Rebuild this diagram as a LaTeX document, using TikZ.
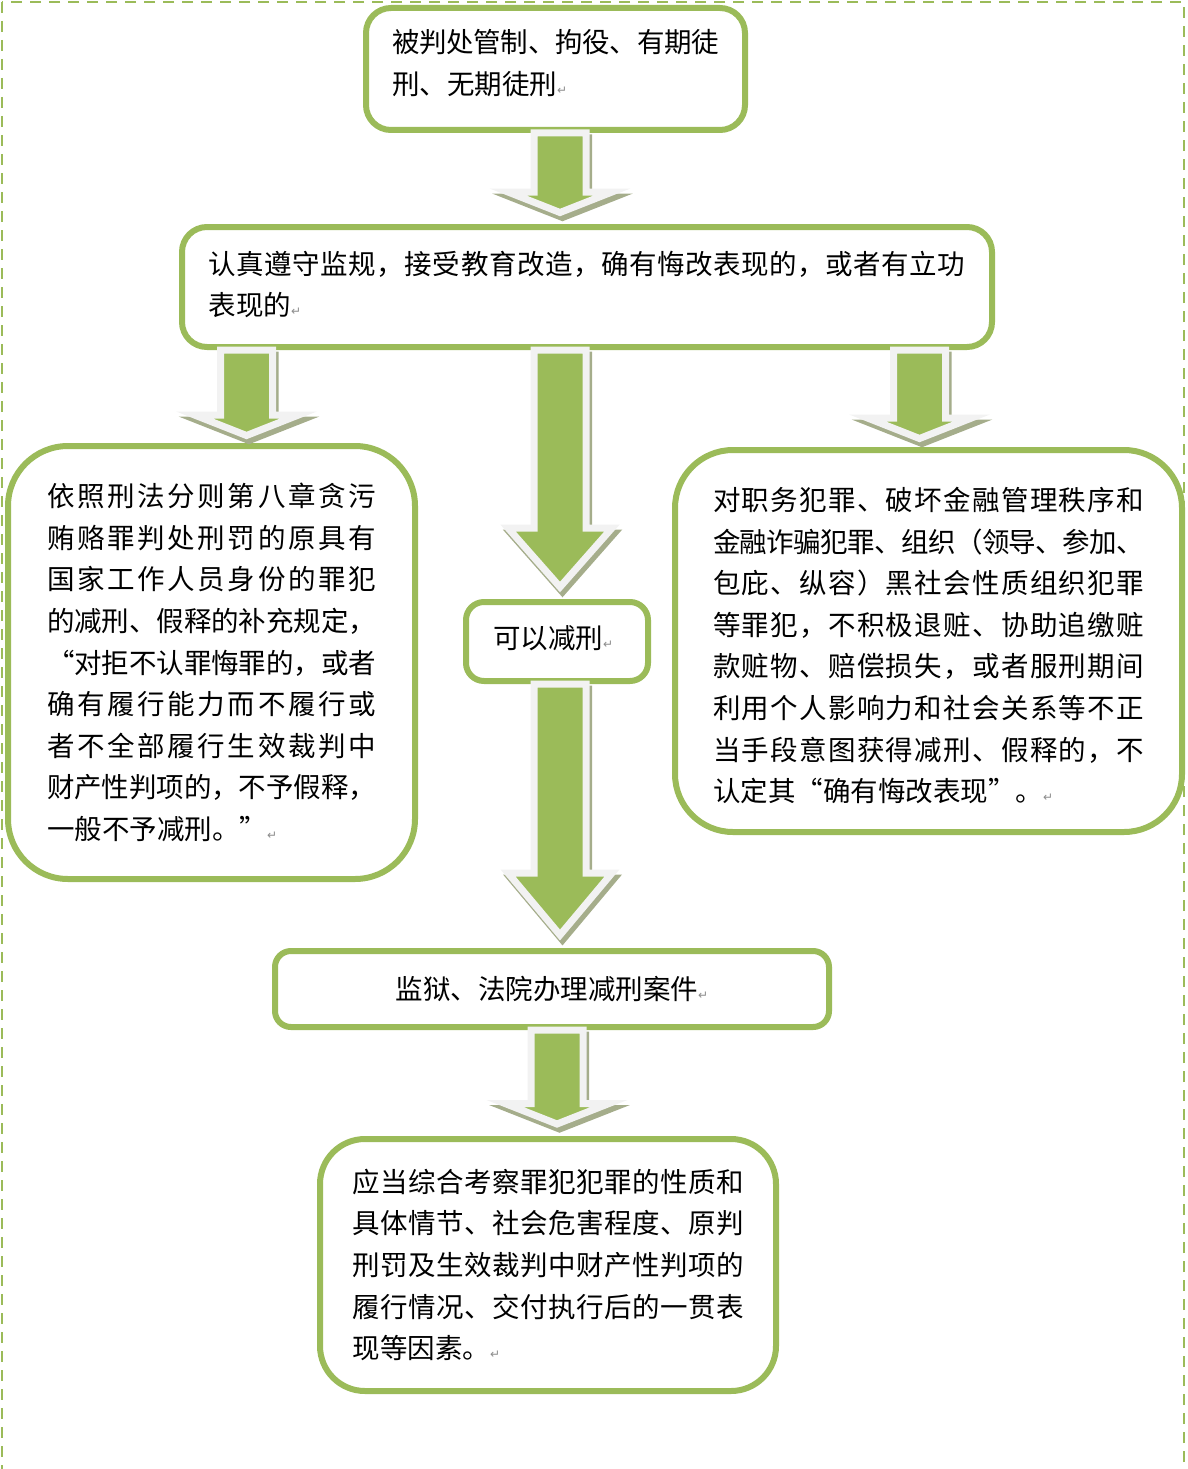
\documentclass[tikz,border=0pt]{standalone}
\usepackage{fontspec}
\usetikzlibrary{calc}
\newfontfamily\cjk{Noto Sans CJK SC}
\newfontfamily\retfont{DejaVu Sans}
\definecolor{boxgreen}{HTML}{9BBB59}
\definecolor{arrline}{HTML}{F2F2F2}
\definecolor{shadowol}{HTML}{A5AD8B}
\definecolor{retgray}{HTML}{8C8C8C}

% one justified line, glue between all characters
\def\jspread#1#2\relax{#1\ifx\relax#2\relax\else\hskip 0pt plus 1fil minus 2pt\jspread#2\relax\fi}
\newcommand\jline[1]{\makebox[\linewidth][s]{\jspread#1\relax}}
\newcommand\retmark{{\retfont\fontsize{12}{12}\selectfont\textcolor{retgray}{↵}}}
% extra room under the last line (moves the text up by half of it)
\newcommand\padb[1]{\par\vskip#1\hrule height 0pt}

% block arrow: x, from, to, gap, head length
\newcommand\blockarr[5]{%
  \coordinate (s) at (#1,0 |- #2.south);
  \coordinate (e) at (#1,0 |- #3.north);
  \coordinate (tip) at ([yshift=#4pt]e);
  \coordinate (hb) at ([yshift=#5pt]tip);
  \filldraw[arrshadow] ($(s)+(-26,0)$) -- ($(hb)+(-26,0)$) -- ($(hb)+(-52,0)$) -- (tip)
    -- ($(hb)+(52,0)$) -- ($(hb)+(26,0)$) -- ($(s)+(26,0)$) -- cycle;
  \filldraw[arrbody] ($(s)+(-26,0)$) -- ($(hb)+(-26,0)$) -- ($(hb)+(-52,0)$) -- (tip)
    -- ($(hb)+(52,0)$) -- ($(hb)+(26,0)$) -- ($(s)+(26,0)$) -- cycle;
}

\begin{document}
\begin{tikzpicture}[x=1pt,y=-1pt]
\tikzset{box/.style = {draw=boxgreen, line width=6pt, fill=white,
                       inner sep=0pt, align=left,
                       font=\cjk\fontsize{27.5}{41.6}\selectfont},
         arrbody/.style = {fill=boxgreen, draw=arrline, line width=7pt},
         arrshadow/.style = {fill=shadowol, draw=shadowol, line width=7pt,
                             transform canvas={xshift=2.5pt,yshift=-5pt}},
         frame/.style = {draw=boxgreen, line width=2.5pt, dash pattern=on 11pt off 8pt}}
\useasboundingbox (0,0) rectangle (1187,1469);
\draw[frame] (2,2) rectangle (1184,1490);

\node[box, minimum width=379pt, minimum height=122pt, rounded corners=25pt,
      text width=327pt] (judged) at (555.5,69)
  {\jline{被判处管制、拘役、有期徒}\\刑、无期徒刑\retmark\padb{12pt}};
\node[box, minimum width=810pt, minimum height=120pt, rounded corners=25pt,
      text width=757pt] (behave) at (587,287)
  {\jline{认真遵守监规，接受教育改造，确有悔改表现的，或者有立功}\\表现的\retmark\padb{5pt}};
\node[box, minimum width=407pt, minimum height=433pt, rounded corners=60pt,
      text width=329pt] (graft) at (211.5,662.5)
  {\jline{依照刑法分则第八章贪污}\\
   \jline{贿赂罪判处刑罚的原具有}\\
   \jline{国家工作人员身份的罪犯}\\
   \jline{的减刑、假释的补充规定，}\\
   \jline{“对拒不认罪悔罪的，或者}\\
   \jline{确有履行能力而不履行或}\\
   \jline{者不全部履行生效裁判中}\\
   \jline{财产性判项的，不予假释，}\\
   一般不予减刑。”\retmark};
\node[box, minimum width=507pt, minimum height=382pt, rounded corners=58pt,
      text width=431pt] (finance) at (928.5,641)
  {\jline{对职务犯罪、破坏金融管理秩序和}\\
   \jline{金融诈骗犯罪、组织（领导、参加、}\\
   \jline{包庇、纵容）黑社会性质组织犯罪}\\
   \jline{等罪犯，不积极退赃、协助追缴赃}\\
   \jline{款赃物、赔偿损失，或者服刑期间}\\
   \jline{利用个人影响力和社会关系等不正}\\
   \jline{当手段意图获得减刑、假释的，不}\\
   认定其“确有悔改表现”。\retmark\padb{-9pt}};
\node[box, minimum width=182pt, minimum height=79pt, rounded corners=18pt,
      text width=128pt] (canreduce) at (557,641.5) {可以减刑\retmark\padb{6pt}};
\node[box, minimum width=554pt, minimum height=76pt, rounded corners=16pt]
  (court) at (552,989) {监狱、法院办理减刑案件\retmark};
\node[box, minimum width=456pt, minimum height=252pt, rounded corners=45pt,
      text width=391pt] (factors) at (548,1265)
  {\jline{应当综合考察罪犯犯罪的性质和}\\
   \jline{具体情节、社会危害程度、原判}\\
   \jline{刑罚及生效裁判中财产性判项的}\\
   \jline{履行情况、交付执行后的一贯表}\\
   现等因素。\retmark};

% arrows start on the border of the box above
\blockarr{560}{judged}{behave}{11.5}{20.5}
\blockarr{246.5}{behave}{graft}{7.5}{20.5}
\blockarr{919.5}{behave}{finance}{8.5}{20.5}
\blockarr{560}{behave}{canreduce}{12}{59}
\blockarr{560}{canreduce}{court}{13}{62}
\blockarr{557}{court}{factors}{12}{20.5}
\end{tikzpicture}
\end{document}
